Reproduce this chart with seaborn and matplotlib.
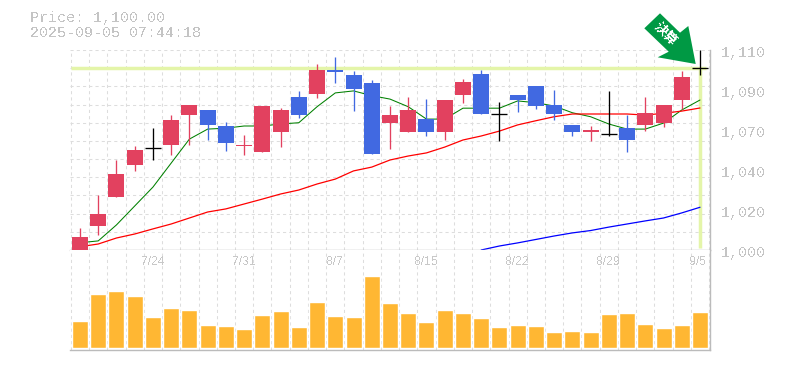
import numpy as np
import pandas as pd
import seaborn as sns
import matplotlib.pyplot as plt
from matplotlib.patches import Polygon
from matplotlib.transforms import Affine2D

W, H = 785, 370

price_label = 'Price: 1,100.00'
time_label = '2025-09-05 07:44:18'
current_price = 1100

opens = [1000, 1013, 1029, 1047, 1056, 1058, 1074, 1077, 1068, 1057, 1054, 1065, 1084, 1086, 1099, 1096, 1092, 1070, 1065, 1072, 1065,
         1085, 1097, 1075, 1085, 1090, 1080, 1069, 1065, 1064, 1067, 1069, 1070, 1082.5, 1100]
closes = [1007, 1020, 1042, 1055, 1056, 1071.5, 1080, 1069, 1059, 1058, 1079, 1077, 1074, 1099, 1098, 1088.5, 1053, 1074, 1077, 1065, 1082.5,
          1092.5, 1075, 1075, 1082.5, 1079, 1075, 1065, 1066, 1064, 1060.5, 1075.5, 1080, 1095, 1100]
highs = [1012, 1030, 1049.5, 1057, 1067, 1074, 1080, 1077, 1070.5, 1063, 1079, 1078, 1087.5, 1102.5, 1106, 1098.5, 1093.5, 1079, 1084, 1083, 1082.5,
         1094, 1099, 1081.5, 1085, 1090, 1088, 1069, 1068, 1087.5, 1074, 1084, 1080, 1098.5, 1110]
lows = [1000, 1008, 1029, 1043.5, 1049.5, 1052, 1058, 1060.5, 1054.5, 1052, 1054, 1056.5, 1072.5, 1083.5, 1092, 1076.5, 1053, 1055.5, 1065, 1062.5, 1060.5,
        1081, 1075, 1060, 1076, 1077.5, 1071.5, 1062.5, 1060, 1062.5, 1054, 1065.5, 1067.5, 1077.5, 1096]

ma_short = [1004, 1005, 1013.8, 1024.2, 1034.6, 1047.8, 1061, 1066.5, 1067, 1068.2, 1068.2, 1069.3, 1070, 1078.8, 1086.4, 1087.5, 1084.9, 1083, 1078.8, 1072, 1072,
            1078, 1078, 1078, 1082, 1081, 1079.2, 1075.5, 1073.3, 1069.3, 1066.5, 1066.5, 1069.8, 1077, 1082.5]
ma_mid = [1001.8, 1003.3, 1006.6, 1008.8, 1011.6, 1014.3, 1017.6, 1020.9, 1022.6, 1025.3, 1028, 1030.8, 1033, 1036.3, 1039, 1043.5, 1045.6, 1049.5, 1051.7, 1053.4, 1056.6,
          1060.5, 1062.7, 1065.4, 1068.8, 1071.1, 1073.3, 1074.8, 1074.8, 1074.8, 1074.8, 1074.2, 1075.2, 1076.4, 1078.1]
ma_long = [np.nan] * 22 + [1000, 1002.2, 1003.9, 1005.8, 1007.7, 1009.4, 1010.7, 1012.6, 1014.3, 1016, 1017.6, 1020.4, 1023.5]

volume = [26.3, 53.3, 56.3, 51.3, 30.3, 39.3, 37.3, 22.3, 21.3, 18.3, 32.3, 36.3, 20.3, 45.3, 31.3, 30.3, 71.3,
          44.7, 34.7, 25.7, 37.7, 34.7, 29.7, 20.7, 22.7, 21.7, 15.7, 16.7, 15.7, 33.7, 34.7, 23.7, 19.7, 22.7, 35.7]

date_idx = [4, 9, 14, 19, 24, 29, 34]
date_labels = ['7/24', '7/31', '8/7', '8/15', '8/22', '8/29', '9/5']
price_ticks = [1000, 1022, 1044, 1066, 1088, 1110]
price_tick_labels = ['1,000', '1,020', '1,040', '1,070', '1,090', '1,110']

# Colors
RED = '#e2415f'
BLUE = '#4169e1'
GRID = '#dddddd'
FRAME = '#bbbbbb'
TEXT = '#c4c4c4'
LIME = '#e4f5a9'
DASH = (0, (3, 3))

sns.set_style('white')
plt.rcParams['text.antialiased'] = False
plt.rcParams['font.family'] = ['Liberation Mono', 'Noto Sans CJK JP', 'DejaVu Sans']

df = pd.DataFrame({'day': np.arange(len(opens)), 'open': opens, 'close': closes, 'high': highs, 'low': lows,
                   'ma_short': ma_short, 'ma_mid': ma_mid, 'ma_long': ma_long, 'volume': volume})

fig = plt.figure(figsize=(W / 100, H / 100), dpi=100)


def add_axes(left, top, right, bottom):
    return fig.add_axes([left / W, 1 - bottom / H, (right - left) / W, (bottom - top) / H])


ax = add_axes(70, 50, 710, 250)
ax_vol = add_axes(70, 250, 710, 350)

for a in (ax, ax_vol):
    a.set_facecolor('white')
    a.set_axisbelow(True)
    for side in ['top', 'left']:
        a.spines[side].set_visible(False)
    for side in ['right', 'bottom']:
        a.spines[side].set_color(FRAME)
        a.spines[side].set_linewidth(1.0)

# Price panel
ax.hlines(current_price, -0.5, 34.35, color=LIME, linewidth=2.5, zorder=1)
ax.vlines(34, 1001, current_price, color=LIME, linewidth=2.5, zorder=1)

for col, color, lw in [('ma_short', 'green', 0.75), ('ma_mid', 'red', 0.9), ('ma_long', 'blue', 0.9)]:
    sns.lineplot(data=df, x='day', y=col, color=color, linewidth=lw, ax=ax, zorder=2)

body_w = 16 / 18.235
for row in df.itertuples():
    if row.close == row.open:
        color = 'black'
    elif row.close > row.open:
        color = RED
    else:
        color = BLUE
    ax.vlines(row.day, row.low, row.high, color=color, linewidth=0.95, zorder=3)
    if color == 'black':
        ax.hlines(row.close, row.day - body_w / 2, row.day + body_w / 2, color='black', linewidth=0.95, zorder=3)
    else:
        ax.bar(row.day, abs(row.close - row.open), bottom=min(row.open, row.close), width=body_w,
               color=color, linewidth=0, zorder=3, clip_on=False)

# Price axis labels
for tick, label in zip(price_ticks, price_tick_labels):
    y_px = 250 - (tick - 1000) * 200 / 110
    fig.text(720.5 / W, 1 - (y_px + 3) / H, label, color=TEXT, fontsize=10.8, ha='left', va='center')

# Date labels
for i, label in zip(date_idx, date_labels):
    x_px = 80 + i * 18.235
    if label == '9/5':
        x_px -= 2
    fig.text(x_px / W, 1 - 262 / H, label, color='#c8c8c8', fontsize=8.8, family='Liberation Sans', ha='center', va='center')

# Volume panel
sns.barplot(data=df, x='day', y='volume', color='#ffb733', saturation=1, width=body_w, ax=ax_vol, zorder=2)

margin = 10 / 18.235
for a in (ax, ax_vol):
    a.set_xlim(-margin, 34 + margin)
    a.set_xticks(np.arange(-0.5, 35))
    a.grid(axis='x', color=GRID, linestyle=DASH, linewidth=0.75, zorder=0)
    a.tick_params(length=0, labelbottom=False, labelleft=False)
    a.set_xlabel('')
    a.set_ylabel('')

ax.set_ylim(1000, 1110)
ax.set_yticks(np.arange(1000, 1111, 10))
ax.grid(axis='y', color=GRID, linestyle=DASH, linewidth=0.75, zorder=0)
ax_vol.set_ylim(-2.4, 97.6)

# Header text
fig.text(30 / W, 1 - 18 / H, price_label, color=TEXT, fontsize=10.8, ha='left', va='center')
fig.text(30 / W, 1 - 33 / H, time_label, color=TEXT, fontsize=10.8, ha='left', va='center')

# Badge arrow, pixel coordinates with y flipped
to_px = Affine2D().scale(1, -1).translate(0, H)
badge = Polygon([(660, 13.3), (644.3, 28.3), (668.7, 51.7), (657.7, 57.3), (695.7, 64), (688.3, 26), (680, 32.7)],
                closed=True, facecolor='#009944', edgecolor='none', transform=to_px, zorder=10)
fig.add_artist(badge)
fig.text(665.5 / W, 1 - 33.5 / H, '決算', color='white', fontsize=9.5, fontweight='bold', rotation=-45,
         rotation_mode='anchor', family='Noto Sans CJK JP', ha='center', va='center', zorder=11)

fig.savefig('out.png', dpi=100)
